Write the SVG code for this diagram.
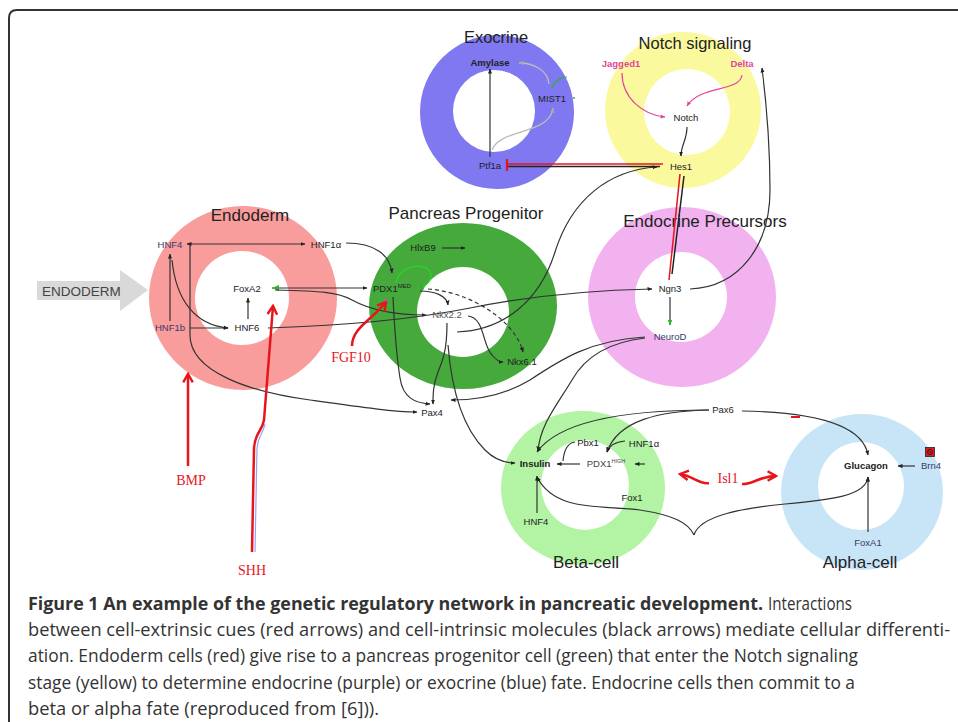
<svg xmlns="http://www.w3.org/2000/svg" width="958" height="722" viewBox="0 0 958 722">
<style>
.t{font-family:"Liberation Sans",Arial,sans-serif;fill:#222;text-anchor:middle}
.title{font-size:16.5px;fill:#222}
.n{font-size:9.5px}
.b{font-weight:bold}
.r{font-family:"Liberation Serif","Times New Roman",serif;fill:#e8141c;font-size:14px;text-anchor:middle}
.c{fill:none;stroke:#333;stroke-width:1.2}
.g{fill:none;stroke:#bbb;stroke-width:1.3}
.pk{fill:none;stroke:#e2449e;stroke-width:1.2}
.red{fill:none;stroke:#e8141c;stroke-width:2.5}
.cap{font-family:"Open Sans","Liberation Sans",sans-serif;font-size:17.5px;fill:#333}
.ring{fill-rule:evenodd}
</style>
<defs>
<marker id="a" viewBox="0 0 10 10" refX="9" refY="5" markerWidth="5" markerHeight="5" orient="auto-start-reverse" markerUnits="userSpaceOnUse"><path d="M0,1 L10,5 L0,9 z" fill="#222"/></marker>
<marker id="ag" viewBox="0 0 10 10" refX="9" refY="5" markerWidth="5" markerHeight="5" orient="auto" markerUnits="userSpaceOnUse"><path d="M0,1 L10,5 L0,9 z" fill="#aaa"/></marker>
<marker id="ap" viewBox="0 0 10 10" refX="9" refY="5" markerWidth="5" markerHeight="5" orient="auto" markerUnits="userSpaceOnUse"><path d="M0,1 L10,5 L0,9 z" fill="#e2449e"/></marker>
<marker id="agr" viewBox="0 0 10 10" refX="9" refY="5" markerWidth="6" markerHeight="6" orient="auto" markerUnits="userSpaceOnUse"><path d="M0,1 L10,5 L0,9 z" fill="#2bb52b"/></marker>
<marker id="ar" viewBox="0 0 10 10" refX="8" refY="5" markerWidth="12" markerHeight="12" orient="auto" markerUnits="userSpaceOnUse"><path d="M1,1 L8,5 L1,9" fill="none" stroke="#e8141c" stroke-width="2"/></marker>
</defs>
<rect width="958" height="722" fill="#fff"/>
<path d="M9,722 L9,18 Q9,10 17,10 L958,10" fill="none" stroke="#333" stroke-width="2"/>

<g id="rings">
<path id="ring-exocrine" class="ring" fill="#7f78f0" d="M420,112 a77,77 0 1,0 154,0 a77,77 0 1,0 -154,0 Z M453,111 a41,41 0 1,0 82,0 a41,41 0 1,0 -82,0 Z"/>
<path id="ring-notch" class="ring" fill="#fbf99e" d="M605,110 a78,78 0 1,0 156,0 a78,78 0 1,0 -156,0 Z M644,112 a43,43 0 1,0 86,0 a43,43 0 1,0 -86,0 Z"/>
<path id="ring-endoderm" class="ring" fill="#f99c9c" d="M149,298 a94,92 0 1,0 188,0 a94,92 0 1,0 -188,0 Z M195,298 a47,47 0 1,0 94,0 a47,47 0 1,0 -94,0 Z"/>
<path id="ring-progenitor" class="ring" fill="#45a93c" d="M369,306 a94,83 0 1,0 188,0 a94,83 0 1,0 -188,0 Z M417,312 a46,45 0 1,0 92,0 a46,45 0 1,0 -92,0 Z"/>
<path id="ring-endocrine" class="ring" fill="#f2b1ef" d="M588,297 a94,90 0 1,0 188,0 a94,90 0 1,0 -188,0 Z M635,297 a46,45 0 1,0 92,0 a46,45 0 1,0 -92,0 Z"/>
<path id="ring-beta" class="ring" fill="#b2f4a4" d="M501,488 a82,77 0 1,0 164,0 a82,77 0 1,0 -164,0 Z M541,485 a44,45 0 1,0 88,0 a44,45 0 1,0 -88,0 Z"/>
<path id="ring-alpha" class="ring" fill="#c8e5f7" d="M781,492 a81,78 0 1,0 162,0 a81,78 0 1,0 -162,0 Z M818,486 a43,44 0 1,0 86,0 a43,44 0 1,0 -86,0 Z"/>
</g>

<g id="titles" class="t title">
<text x="496" y="43">Exocrine</text>
<text x="695" y="49">Notch signaling</text>
<text x="250" y="221" font-size="17">Endoderm</text>
<text x="466" y="219" font-size="17">Pancreas Progenitor</text>
<text x="705" y="227" font-size="17">Endocrine Precursors</text>
<text x="586" y="568" font-size="17">Beta-cell</text>
<text x="860" y="568" font-size="17">Alpha-cell</text>
</g>

<g id="endoderm-arrow">
<path d="M37,281 L120,281 L120,270 L148,290 L120,311 L120,300 L37,300 Z" fill="#d9d9d9"/>
<text x="42" y="296" font-family="Liberation Sans,Arial,sans-serif" font-size="13.5" fill="#444">ENDODERM</text>
</g>

<g id="connectors">
<path class="c" d="M490,157 L490,69" marker-end="url(#a)"/>
<path class="g" d="M492,150 C500,128 550,135 553,108" marker-end="url(#ag)"/>
<path class="g" d="M549,84 C548,70 533,63 519,63" marker-end="url(#ag)"/>
<path d="M552,88 C555,80 562,77 567,77" fill="none" stroke="#2bb52b" stroke-width="1.2"/>
<circle cx="574" cy="98" r="1" fill="#2bb52b"/>
<path d="M663,164 L508,164" stroke="#e8141c" stroke-width="1.5" fill="none"/>
<path d="M660,166.5 L508,166.5" stroke="#222" stroke-width="1.5" fill="none"/>
<path d="M507,159 L507,171" stroke="#e8141c" stroke-width="2.2"/>
<path class="pk" d="M622,73 C622,98 643,115 665,117" marker-end="url(#ap)"/>
<path class="pk" d="M742,75 C740,92 700,85 687,106" marker-end="url(#ap)"/>
<path class="c" d="M687,127 C687,140 681,145 681,156" marker-end="url(#a)"/>
<path class="c" d="M690,289 C740,287 770,245 770,190 C770,140 766,100 762,68" marker-end="url(#a)"/>
<path d="M680,174 L669,280" stroke="#e8141c" stroke-width="1.5" fill="none"/>
<path d="M684,176 L672,274" stroke="#222" stroke-width="1.5" fill="none"/>
<path class="c" d="M457,332 C505,330 540,300 555,252 C572,198 610,170 657,167" marker-end="url(#a)"/>
<path class="c" d="M170,321 L170,254" marker-end="url(#a)"/>
<path class="c" d="M172,260 C176,300 195,325 228,328" marker-end="url(#a)"/>
<path class="c" d="M190,328 L228,328" marker-end="url(#a)"/>
<path class="c" d="M248,319 L248,298" marker-end="url(#a)"/>
<path class="c" d="M187,244 L305,244" marker-start="url(#a)" marker-end="url(#a)"/>
<path class="c" d="M190,244 L190,335 C190,372 250,392 310,400 C360,407 395,412 417,412" marker-end="url(#a)"/>
<path class="c" d="M346,243 C375,243 390,255 392,273" marker-end="url(#a)"/>
<path class="c" d="M272,288 L367,288" marker-end="url(#a)"/>
<path d="M279,285 L272,288 L279,291 z" fill="#2bb52b"/>
<path class="c" d="M275,290 C320,291 338,292 352,300 C372,311 400,315 426,315" marker-end="url(#a)"/>
<path class="c" d="M268,328 C360,325 420,318 470,308 C535,295 600,290 652,289" marker-end="url(#a)"/>
<path class="c" d="M442,248 L465,248" marker-end="url(#a)"/>
<path d="M396,283 C400,262 432,262 431,276 C430,284 424,287 418,288" fill="none" stroke="#2bd42b" stroke-width="1.3" marker-end="url(#agr)"/>
<path class="c" d="M428,289 C470,292 515,320 523,352" stroke-dasharray="4,3" marker-end="url(#a)"/>
<path class="c" d="M420,291 C435,291 447,296 448,305" marker-end="url(#a)"/>
<path class="c" d="M468,316 C485,318 482,345 492,355 C496,360 500,362 503,362" marker-end="url(#a)"/>
<path class="c" d="M447,323 C447,350 443,360 438,372 C433,385 433,395 433,404" marker-end="url(#a)"/>
<path class="c" d="M448,345 C452,395 465,430 485,450 C495,460 505,463 515,463" marker-end="url(#a)"/>
<path class="c" d="M393,297 C395,340 398,365 400,378 C403,398 415,403 430,404" marker-end="url(#a)"/>
<path class="c" d="M645,337 C590,340 560,360 530,380 C500,398 470,400 451,400" marker-end="url(#a)"/>
<path class="c" d="M645,338 C610,342 585,357 572,380 C557,405 540,425 538,451" marker-end="url(#a)"/>
<path class="c" d="M670,297 L670,325" marker-end="url(#agr)"/>
<path class="c" d="M580,464 L557,464" marker-end="url(#a)"/>
<path class="c" d="M645,464 L635,464" marker-end="url(#a)"/>
<path class="c" d="M575,442 C567,443 564,450 563,461"/>
<path class="c" d="M625,441 C615,442 609,446 607,452" marker-end="url(#a)"/>
<path class="c" d="M709,410 C660,411 618,420 607,452" marker-end="url(#a)"/>
<path class="c" d="M709,410 C630,410 560,420 537,452" marker-end="url(#a)"/>
<path class="c" d="M742,411 C800,412 862,420 868,455" marker-end="url(#a)"/>
<path d="M791,417 L800,417" stroke="#e8141c" stroke-width="2"/>
<path class="c" d="M537,513 L537,476" marker-end="url(#a)"/>
<path class="c" d="M694,535 C688,522 672,515 640,510 C600,505 555,512 537,477" marker-end="url(#a)"/>
<path class="c" d="M694,535 C700,515 745,508 785,504 C830,500 866,496 868,477" marker-end="url(#a)"/>
<path class="c" d="M915,466 L898,466" marker-end="url(#a)"/>
<path class="c" d="M868,532 L868,477" marker-end="url(#a)"/>
<path class="red" d="M188,466 L188,374" marker-end="url(#ar)"/>
<path d="M255,552 L257,448 C258,436 263,434 265,424" fill="none" stroke="#9aa0f5" stroke-width="1.2"/>
<path class="red" d="M252,552 L254,448 C255,432 262,432 264,420 L273,306" marker-end="url(#ar)"/>
<path class="red" d="M352,346 C352,328 372,320 386,302" stroke-width="3.5" marker-end="url(#ar)"/>
<circle cx="386" cy="300" r="1.5" fill="#c04fc0"/>
<path class="red" d="M709,483 C700,485 693,476 680,474" stroke-width="2" marker-end="url(#ar)"/>
<path class="red" d="M742,484 C752,485 760,476 776,476" stroke-width="2" marker-end="url(#ar)"/>
</g>

<g id="node-amylase"><text class="t n b" x="490" y="66">Amylase</text></g>
<g id="node-mist1"><text class="t n" x="552" y="102" fill="#333">MIST1</text></g>
<g id="node-ptf1a"><text class="t n" x="490" y="169">Ptf1a</text></g>
<g id="node-jagged1"><text class="t n b" x="621" y="67" style="fill:#e2449e">Jagged1</text></g>
<g id="node-delta"><text class="t n b" x="742" y="67" style="fill:#e2449e">Delta</text></g>
<g id="node-notch"><text class="t n" x="686" y="121">Notch</text></g>
<g id="node-hes1"><text class="t n" x="681" y="170">Hes1</text></g>
<g id="node-hnf4-e"><text class="t n" x="170" y="248" style="fill:#3a3a66">HNF4</text></g>
<g id="node-hnf1a-e"><text class="t n" x="326" y="248">HNF1α</text></g>
<g id="node-foxa2"><text class="t n" x="247" y="292">FoxA2</text></g>
<g id="node-hnf1b"><text class="t n" x="170" y="331" style="fill:#3a3a66">HNF1b</text></g>
<g id="node-hnf6"><text class="t n" x="247" y="331">HNF6</text></g>
<g id="node-pdx1med"><text class="t n" x="392" y="292">PDX1<tspan font-size="6" dy="-4">MED</tspan></text></g>
<g id="node-hlxb9"><text class="t n" x="423" y="251">HlxB9</text></g>
<g id="node-nkx22"><text class="t n" x="447" y="318" style="fill:#555">Nkx2.2</text></g>
<g id="node-nkx61"><text class="t n" x="522" y="365">Nkx6.1</text></g>
<g id="node-pax4"><text class="t n" x="432" y="416">Pax4</text></g>
<g id="node-ngn3"><text class="t n" x="670" y="292">Ngn3</text></g>
<g id="node-neurod"><text class="t n" x="670" y="340" style="fill:#3a3a66">NeuroD</text></g>
<g id="node-insulin"><text class="t n b" x="535" y="467">Insulin</text></g>
<g id="node-pdx1high"><text class="t n" x="606" y="467" style="fill:#444">PDX1<tspan font-size="5.5" dy="-4">HIGH</tspan></text></g>
<g id="node-pbx1"><text class="t n" x="588" y="446">Pbx1</text></g>
<g id="node-hnf1a-b"><text class="t n" x="644" y="447">HNF1α</text></g>
<g id="node-fox1"><text class="t n" x="632" y="501">Fox1</text></g>
<g id="node-hnf4-b"><text class="t n" x="536" y="525">HNF4</text></g>
<g id="node-pax6"><text class="t n" x="723" y="413">Pax6</text></g>
<g id="node-glucagon"><text class="t n b" x="866" y="469">Glucagon</text></g>
<g id="node-brn4"><text class="t n" x="931" y="469" style="fill:#3a3a66">Brn4</text></g>
<g id="node-brn4-mark">
<rect x="925.5" y="447.5" width="9" height="9" fill="#e8141c" stroke="#222" stroke-width="0.8"/>
<circle cx="930" cy="452" r="2.5" fill="none" stroke="#222" stroke-width="1"/>
<path d="M928.2,450.2 L931.8,453.8" stroke="#222" stroke-width="1"/>
</g>
<g id="node-foxa1"><text class="t n" x="868" y="546" style="fill:#3a3a66">FoxA1</text></g>
<g id="node-isl1"><text class="r" x="728" y="483">Isl1</text></g>
<g id="node-bmp"><text class="r" x="191" y="485">BMP</text></g>
<g id="node-shh"><text class="r" x="252" y="575">SHH</text></g>
<g id="node-fgf10"><text class="r" x="351" y="362">FGF10</text></g>

<g id="caption">
<text class="cap" x="28" y="610" font-weight="bold" fill="#222" textLength="735" lengthAdjust="spacingAndGlyphs">Figure 1 An example of the genetic regulatory network in pancreatic development.</text>
<text class="cap" x="768" y="610" textLength="84" lengthAdjust="spacingAndGlyphs">Interactions</text>
<text class="cap" x="28" y="636" textLength="922" lengthAdjust="spacingAndGlyphs">between cell-extrinsic cues (red arrows) and cell-intrinsic molecules (black arrows) mediate cellular differenti-</text>
<text class="cap" x="28" y="662" textLength="830" lengthAdjust="spacingAndGlyphs">ation. Endoderm cells (red) give rise to a pancreas progenitor cell (green) that enter the Notch signaling</text>
<text class="cap" x="28" y="689" textLength="827" lengthAdjust="spacingAndGlyphs">stage (yellow) to determine endocrine (purple) or exocrine (blue) fate. Endocrine cells then commit to a</text>
<text class="cap" x="28" y="715" textLength="351" lengthAdjust="spacingAndGlyphs">beta or alpha fate (reproduced from [6])).</text>
</g>
</svg>
